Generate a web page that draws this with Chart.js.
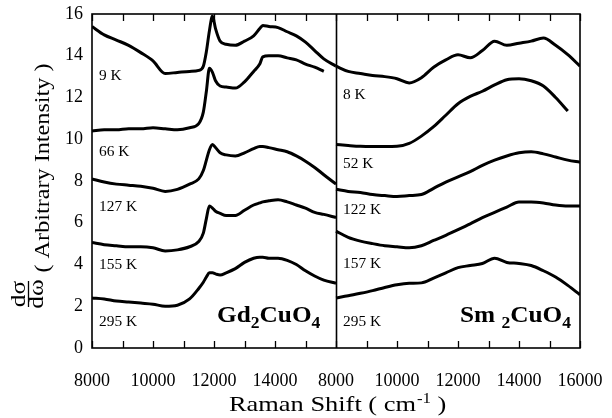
<!DOCTYPE html>
<html>
<head>
<meta charset="utf-8">
<script src="https://cdn.jsdelivr.net/npm/chart.js@4/dist/chart.umd.min.js"></script>
<style>
html,body{margin:0;padding:0;background:#fff;}
#c{display:block;}
</style>
</head>
<body>
<canvas id="c" width="612" height="418"></canvas>
<script>
// ---- Data (Raman shift in cm^-1, intensity in arbitrary units) ----
const gdShift = [8000, 8400, 8800, 9200, 9600, 10000, 10400, 10800, 11200, 11500, 11650, 11750, 11850, 11950, 12050, 12200, 12400, 12700, 13000, 13300, 13500, 13600, 13800, 14100, 14400, 14700, 15000, 15300, 15600, 16000];
const gd9K   = [15.4, 15.0, 14.75, 14.5, 14.15, 13.75, 13.15, 13.2, 13.25, 13.3, 13.5, 14.2, 15.2, 15.9, 15.3, 14.7, 14.55, 14.5, 14.7, 14.95, 15.3, 15.45, 15.4, 15.35, 15.15, 14.95, 14.65, 14.25, 13.85, 13.5];
const gd66K  = [10.4, 10.45, 10.45, 10.5, 10.5, 10.55, 10.5, 10.45, 10.55, 10.75, 11.3, 12.3, 13.4, 13.2, 12.8, 12.55, 12.5, 12.45, 12.75, 13.25, 13.6, 13.95, 14.0, 14.0, 13.9, 13.8, 13.6, 13.45, 13.25, null];
const gd127K = [8.1, 7.95, 7.85, 7.8, 7.75, 7.65, 7.5, 7.6, 7.85, 8.1, 8.5, 9.0, 9.5, 9.75, 9.6, 9.35, 9.25, 9.2, 9.35, 9.55, 9.65, 9.65, 9.6, 9.5, 9.4, 9.2, 8.95, 8.65, 8.3, 7.85];
const gd155K = [5.05, 4.95, 4.9, 4.85, 4.85, 4.8, 4.65, 4.7, 4.85, 5.1, 5.5, 6.2, 6.8, 6.7, 6.55, 6.45, 6.35, 6.35, 6.6, 6.85, 6.95, 7.0, 7.05, 7.1, 7.0, 6.85, 6.7, 6.5, 6.4, 6.25];
const gd295K = [2.4, 2.35, 2.25, 2.2, 2.15, 2.1, 2.0, 2.05, 2.35, 2.85, 3.15, 3.4, 3.6, 3.6, 3.55, 3.5, 3.6, 3.8, 4.1, 4.3, 4.35, 4.35, 4.3, 4.3, 4.2, 4.0, 3.7, 3.45, 3.25, 3.1];

const smShift = [8000, 8400, 8800, 9200, 9600, 10000, 10400, 10800, 11200, 11600, 12000, 12400, 12800, 13200, 13600, 14000, 14400, 14800, 15200, 15600, 16000];
const sm8K   = [13.5, 13.25, 13.15, 13.05, 13.0, 12.9, 12.7, 12.95, 13.45, 13.8, 14.05, 13.9, 14.25, 14.7, 14.5, 14.6, 14.7, 14.85, 14.5, 14.05, 13.5];
const sm52K  = [9.75, 9.7, 9.66, 9.65, 9.65, 9.66, 9.8, 10.15, 10.6, 11.15, 11.7, 12.05, 12.3, 12.6, 12.85, 12.9, 12.8, 12.55, 12.0, 11.35, null];
const sm122K = [7.6, 7.5, 7.45, 7.35, 7.3, 7.26, 7.3, 7.35, 7.65, 7.95, 8.2, 8.45, 8.75, 9.0, 9.2, 9.35, 9.4, 9.3, 9.15, 9.0, 8.9];
const sm157K = [5.6, 5.3, 5.12, 5.0, 4.9, 4.85, 4.8, 4.9, 5.15, 5.4, 5.67, 5.95, 6.25, 6.5, 6.75, 7.0, 7.0, 6.95, 6.85, 6.8, 6.8];
const sm295K = [2.4, 2.5, 2.62, 2.75, 2.9, 3.03, 3.1, 3.12, 3.35, 3.6, 3.85, 3.95, 4.05, 4.3, 4.1, 4.05, 3.95, 3.7, 3.4, 3.0, 2.55];

const gdLabels = ['9 K', '66 K', '127 K', '155 K', '295 K'];
const smLabels = ['8 K', '52 K', '122 K', '157 K', '295 K'];
const yTickLabels = ['0', '2', '4', '6', '8', '10', '12', '14', '16'];

// Right panel is drawn on the same axis, shifted by one panel width
const panelWidth = 8000;

const SERIF = '"Liberation Serif", "Times New Roman", serif';

function pts(xs, ys, off) {
  return xs.map((x, i) => ({ x: x + off, y: ys[i] }));
}
const gdSeries = [gd9K, gd66K, gd127K, gd155K, gd295K];
const smSeries = [sm8K, sm52K, sm122K, sm157K, sm295K];
const datasets = [];
gdSeries.forEach((s, i) => datasets.push({ label: 'Gd2CuO4 ' + gdLabels[i], data: pts(gdShift, s, 0) }));
smSeries.forEach((s, i) => datasets.push({ label: 'Sm2CuO4 ' + smLabels[i], data: pts(smShift, s, panelWidth) }));
datasets.forEach(d => {
  d.borderColor = '#000';
  d.borderWidth = 3;
  d.pointRadius = 0;
  d.fill = false;
  d.cubicInterpolationMode = 'monotone';
  d.spanGaps = false;
});

function stretchText(ctx, text, x, y, size, bold, sx, align) {
  ctx.save();
  ctx.font = (bold ? 'bold ' : '') + size + 'px ' + SERIF;
  ctx.textBaseline = 'alphabetic';
  const w = ctx.measureText(text).width * sx;
  let left = x;
  if (align === 'center') left = x - w / 2;
  else if (align === 'right') left = x - w;
  ctx.translate(left, y);
  ctx.scale(sx, 1);
  ctx.textAlign = 'left';
  ctx.fillText(text, 0, 0);
  ctx.restore();
  return w;
}

const decor = {
  id: 'decor',
  afterDatasetsDraw(chart) {
    const ctx = chart.ctx;
    const a = chart.chartArea;
    const xs = chart.scales.x;
    ctx.save();
    ctx.strokeStyle = '#000';
    ctx.fillStyle = '#000';
    ctx.lineWidth = 1.6;
    // frame
    ctx.strokeRect(a.left, a.top, a.right - a.left, a.bottom - a.top);
    // panel divider
    const xd = Math.round(xs.getPixelForValue(8000 + panelWidth)) + 0.5;
    ctx.beginPath();
    ctx.moveTo(xd, a.top);
    ctx.lineTo(xd, a.bottom);
    ctx.stroke();
    // inward ticks top & bottom
    ctx.lineWidth = 1.3;
    xs.ticks.forEach(t => {
      const px = Math.round(xs.getPixelForValue(t.value)) + 0.5;
      ctx.beginPath();
      ctx.moveTo(px, a.bottom);
      ctx.lineTo(px, a.bottom - 7);
      ctx.moveTo(px, a.top);
      ctx.lineTo(px, a.top + 7);
      ctx.stroke();
    });
    // series labels
    const lbl = [[99, 80], [99, 156], [99, 211], [99, 269], [99, 326]];
    const lbr = [[343, 99], [343, 168], [343, 214], [343, 268], [343, 326]];
    gdLabels.forEach((t, i) => stretchText(ctx, t, lbl[i][0], lbl[i][1], 14, false, 1.1, 'left'));
    smLabels.forEach((t, i) => stretchText(ctx, t, lbr[i][0], lbr[i][1], 14, false, 1.1, 'left'));
    // compound names
    function compound(parts, x, y) {
      let cx = x;
      parts.forEach(p => {
        if (p[1]) cx += stretchText(ctx, p[0], cx, y + 6, 16, true, 1.1, 'left');
        else cx += stretchText(ctx, p[0], cx, y, 23, true, 1.1, 'left');
      });
    }
    compound([['Gd', 0], ['2', 1], ['CuO', 0], ['4', 1]], 217, 322);
    compound([['Sm ', 0], ['2', 1], ['CuO', 0], ['4', 1]], 460, 322);
    // x axis title
    let tx = 229;
    tx += stretchText(ctx, 'Raman Shift ( cm', tx, 411, 22, false, 1.2, 'left');
    tx += stretchText(ctx, '-1', tx + 1, 403, 14, false, 1.2, 'left') + 1;
    stretchText(ctx, ' )', tx, 411, 22, false, 1.2, 'left');
    // y axis title (rotated)
    ctx.save();
    ctx.translate(49, 168);
    ctx.rotate(-Math.PI / 2);
    stretchText(ctx, '( Arbitrary Intensity )', 0, 0, 22, false, 1.1, 'center');
    ctx.restore();
    // fraction d sigma / d omega
    ctx.save();
    ctx.translate(28, 294);
    ctx.rotate(-Math.PI / 2);
    stretchText(ctx, 'd\u03C3', 0, -3, 22, false, 1.15, 'center');
    stretchText(ctx, 'd\u03C9', 0, 15, 22, false, 1.15, 'center');
    ctx.lineWidth = 1.3;
    ctx.beginPath();
    ctx.moveTo(-13, 0.5);
    ctx.lineTo(13, 0.5);
    ctx.stroke();
    ctx.restore();
    ctx.restore();
  }
};

new Chart(document.getElementById('c'), {
  type: 'line',
  data: { datasets },
  options: {
    responsive: false,
    devicePixelRatio: 1,
    animation: false,
    events: [],
    layout: { padding: { left: 0, top: 14, right: 32, bottom: 0 } },
    plugins: { legend: { display: false }, tooltip: { enabled: false }, title: { display: false } },
    scales: {
      x: {
        type: 'linear',
        min: 8000,
        max: 8000 + 2 * panelWidth,
        grid: { display: false, drawTicks: false },
        border: { display: false },
        afterFit(s) { s.height = 70; s.paddingLeft = 0; s.paddingRight = 0; },
        ticks: {
          stepSize: 1000,
          autoSkip: false,
          maxRotation: 0,
          padding: 22,
          color: '#000',
          font: { family: SERIF, size: 18 },
          callback(v) {
            if (v % 2000 !== 0) return '';
            return String(v < 8000 + panelWidth ? v : v - panelWidth);
          }
        }
      },
      y: {
        min: 0,
        max: 16,
        grid: { display: false, drawTicks: false },
        border: { display: false },
        afterFit(s) { s.width = 92; s.paddingTop = 0; s.paddingBottom = 0; },
        ticks: {
          stepSize: 2,
          padding: 9,
          color: '#000',
          font: { family: SERIF, size: 18 },
          callback(v) { return yTickLabels[v / 2]; }
        }
      }
    }
  },
  plugins: [decor]
});
</script>
</body>
</html>
